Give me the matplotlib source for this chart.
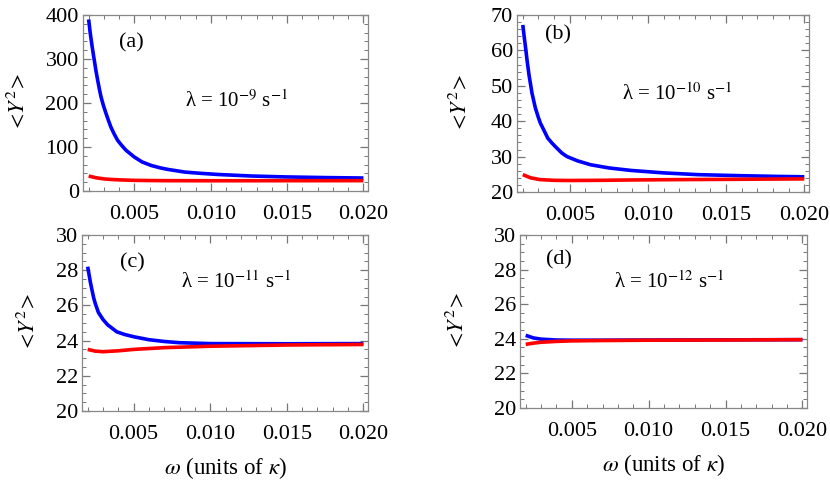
import matplotlib
matplotlib.use("Agg")
import matplotlib.pyplot as plt
from matplotlib.ticker import MultipleLocator, FormatStrFormatter

plt.rcParams['font.family'] = ['Liberation Serif', 'DejaVu Serif']
plt.rcParams['mathtext.fontset'] = 'stix'

# (a) lambda = 1e-9
w_a = [0.002, 0.0021, 0.0022, 0.0023, 0.00237, 0.00248, 0.00259, 0.0027, 0.00281,
       0.00297, 0.00314, 0.0033, 0.00346, 0.00368, 0.0039, 0.00418, 0.00445, 0.005,
       0.0055, 0.0061, 0.0067, 0.0072, 0.0083, 0.0094, 0.0105, 0.0127, 0.0149,
       0.0175, 0.020]
blue_a = [390, 360, 335, 312, 297, 273, 252, 232, 214, 194, 176, 160, 145, 129, 115,
          103, 92.5, 77, 66, 58, 52.5, 49, 43, 40, 37.5, 34, 32, 30.5, 29.5]
wr_a = [0.002, 0.0025, 0.003, 0.0035, 0.004, 0.005, 0.006, 0.007, 0.010, 0.015, 0.020]
red_a = [34, 30, 27.5, 26.2, 25.3, 24.2, 23.8, 23.5, 23.3, 23.4, 23.5]

# (b) lambda = 1e-10
w_b = [0.002, 0.0021, 0.0022, 0.00227, 0.0024, 0.00259, 0.0028, 0.003, 0.00312,
       0.0034, 0.0036, 0.00387, 0.0042, 0.0045, 0.00483, 0.0055, 0.00633, 0.0075,
       0.0089, 0.011, 0.0132, 0.016, 0.0183, 0.020]
blue_b = [67.2, 63.5, 60.0, 57.3, 53.0, 47.9, 43.8, 41.0, 39.5, 37.0, 35.2, 33.8,
          32.3, 31.0, 30.0, 28.8, 27.7, 26.8, 26.1, 25.4, 24.9, 24.6, 24.4, 24.3]
wr_b = [0.002, 0.0025, 0.0031, 0.004, 0.005, 0.007, 0.0089, 0.012, 0.016, 0.020]
red_b = [24.9, 24.0, 23.5, 23.3, 23.25, 23.3, 23.4, 23.5, 23.6, 23.7]

# (c) lambda = 1e-11
w_c = [0.002, 0.0021, 0.00218, 0.0023, 0.0024, 0.0025, 0.0027, 0.003, 0.0033,
       0.0036, 0.0039, 0.0044, 0.005, 0.006, 0.007, 0.008, 0.010, 0.015, 0.020]
blue_c = [28.2, 27.7, 27.3, 26.8, 26.4, 26.1, 25.6, 25.2, 24.9, 24.7, 24.5, 24.35,
          24.22, 24.05, 23.95, 23.88, 23.83, 23.82, 23.83]
wr_c = [0.002, 0.0025, 0.003, 0.004, 0.005, 0.007, 0.010, 0.015, 0.020]
red_c = [23.5, 23.4, 23.37, 23.42, 23.5, 23.6, 23.68, 23.75, 23.78]

# (d) lambda = 1e-12
w_d = [0.002, 0.0025, 0.003, 0.004, 0.005, 0.007, 0.010, 0.015, 0.020]
blue_d = [24.2, 24.05, 23.98, 23.93, 23.92, 23.92, 23.93, 23.94, 23.95]
wr_d = [0.002, 0.0025, 0.003, 0.004, 0.005, 0.007, 0.010, 0.015, 0.020]
red_d = [23.68, 23.75, 23.8, 23.85, 23.88, 23.9, 23.92, 23.93, 23.95]

panels = [
    ("(a)", r"λ = 10$^{-9}$ s$^{-1}$", w_a, blue_a, wr_a, red_a, (0, 400), 100, 20),
    ("(b)", r"λ = 10$^{-10}$ s$^{-1}$", w_b, blue_b, wr_b, red_b, (20, 70), 10, 2),
    ("(c)", r"λ = 10$^{-11}$ s$^{-1}$", w_c, blue_c, wr_c, red_c, (20, 30), 2, 0.5),
    ("(d)", r"λ = 10$^{-12}$ s$^{-1}$", w_d, blue_d, wr_d, red_d, (20, 30), 2, 0.5),
]

# axes boxes in pixels: left, top, right, bottom
boxes = [(83, 15, 368, 191), (517, 15, 809, 192), (82, 235, 368, 411), (520, 235, 807, 408)]
label_pos = [(0.17, 0.84), (0.14, 0.89), (0.175, 0.84), (0.136, 0.855)]
lam_pos = [(0.54, 0.51), (0.55, 0.55), (0.54, 0.73), (0.52, 0.73)]
ylab_x = [-0.19, -0.158, -0.15, -0.18]

W, H = 830, 482
fig = plt.figure(figsize=(8.3, 4.82), dpi=100)

for i, (tag, lam, wb, yb, wr, yr, ylim, major, minor) in enumerate(panels):
    l, t, r, b = boxes[i]
    ax = fig.add_axes([l / W, 1 - b / H, (r - l) / W, (b - t) / H])
    ax.plot(wb, yb, color="#0000ff", lw=2.6, solid_capstyle="butt")
    ax.plot(wr, yr, color="#ff0000", lw=2.6, solid_capstyle="butt")
    ax.set_xlim(0.00163, 0.0203)
    ax.set_ylim(*ylim)
    ax.xaxis.set_major_locator(MultipleLocator(0.005))
    ax.xaxis.set_minor_locator(MultipleLocator(0.001))
    ax.xaxis.set_major_formatter(FormatStrFormatter("%.3f"))
    ax.yaxis.set_major_locator(MultipleLocator(major))
    ax.yaxis.set_minor_locator(MultipleLocator(minor))
    ax.tick_params(which="both", direction="in", top=True, right=True,
                   color="#777777", labelsize=16)
    ax.tick_params(which="major", length=6, width=0.9)
    ax.tick_params(which="minor", length=3, width=0.7)
    ax.tick_params(axis="x", pad=10)
    ax.tick_params(axis="y", pad=3)
    for s in ax.spines.values():
        s.set_color("#888888")
        s.set_linewidth(0.9)
    ax.text(*label_pos[i], tag, transform=ax.transAxes, fontsize=16, ha="center", va="center")
    ax.text(*lam_pos[i], lam, transform=ax.transAxes, fontsize=15, ha="center", va="center")
    ax.set_ylabel(r"$<\!Y^2\!>$", fontsize=16)
    ax.yaxis.set_label_coords(ylab_x[i], 0.5)
    if i >= 2:
        ax.set_xlabel(r"$\omega$ (units of $\kappa$)", fontsize=16.5, labelpad=8)

fig.savefig("out.png", dpi=100)
